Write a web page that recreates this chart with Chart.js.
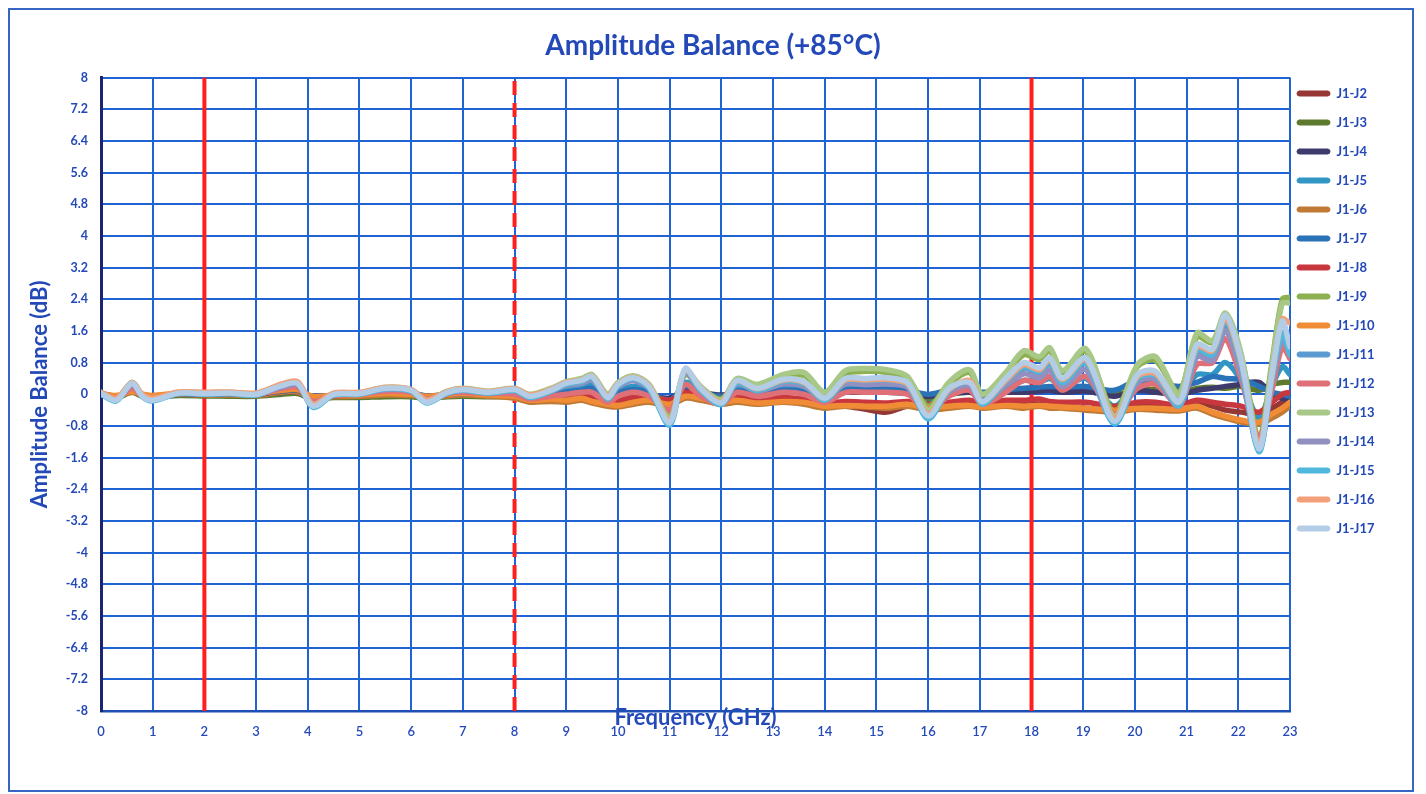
<!DOCTYPE html>
<html><head><meta charset="utf-8">
<script src="https://cdn.jsdelivr.net/npm/chart.js@4.4.1/dist/chart.umd.min.js"></script>
<style>
html,body{margin:0;padding:0;background:#fff;}
#wrap{position:relative;width:1426px;height:794px;overflow:hidden;}
canvas{position:absolute;left:0;top:0;}
#frame{position:absolute;left:8px;top:8px;width:1402px;height:780px;border:2px solid #3566C4;pointer-events:none;}
</style></head><body>
<div id="wrap"><canvas id="c" width="1426" height="794"></canvas><div id="frame"></div></div>
<script>
const chartTitle = 'Amplitude Balance (+85°C)';
const xTitle = 'Frequency (GHz)';
const yTitle = 'Amplitude Balance (dB)';

const freqGHz = [0,0.3,0.6,0.8,1.0, 1.5,2,2.5,3,3.5, 3.8,4.1,4.5,5,5.5, 6,6.3,6.7,7,7.5, 8,8.3,8.7,9,9.3, 9.5,9.8,10,10.3,10.6, 11.0,11.3,11.6,12.0,12.3, 12.7,13.2,13.6,14.0,14.4, 14.8,15.2,15.6,16.0,16.4, 16.8,17.05,17.5,17.85,18.15, 18.35,18.6,19.05,19.6,20.05, 20.4,20.85,21.2,21.5,21.75, 22.05,22.4,22.65,22.85,23.0];

const seriesNames = ['J1-J2','J1-J3','J1-J4','J1-J5','J1-J6','J1-J7','J1-J8','J1-J9','J1-J10','J1-J11','J1-J12','J1-J13','J1-J14','J1-J15','J1-J16','J1-J17'];

const J2 = [0.00,-0.08,0.10,-0.03,-0.08, 0.00,0.00,0.00,-0.02,0.08, 0.10,-0.12,-0.04,-0.03,0.03, 0.02,-0.08,-0.02,0.02,-0.02, -0.02,-0.12,-0.08,-0.10,-0.05, -0.12,-0.20,-0.22,-0.15,-0.10, -0.20,-0.02,-0.10,-0.20,-0.12, -0.18,-0.15,-0.20,-0.30,-0.30, -0.38,-0.45,-0.30,-0.35,-0.30, -0.25,-0.30,-0.25,-0.28,-0.25, -0.30,-0.30,-0.35,-0.40,-0.30, -0.32,-0.35,-0.25,-0.30,-0.40, -0.45,-0.50,-0.35,-0.20,-0.10];
const J3 = [0.00,-0.08,0.05,-0.05,-0.08, -0.03,-0.04,-0.05,-0.05,0.00, 0.02,-0.12,-0.08,-0.08,-0.06, -0.06,-0.10,-0.06,-0.05,-0.06, -0.05,-0.10,-0.05,-0.02,0.02, 0.00,-0.10,-0.05,0.00,-0.02, -0.12,0.05,0.00,-0.05,0.05, 0.00,0.05,0.05,-0.05,0.05, 0.08,0.10,0.05,-0.10,0.00, 0.05,-0.05,0.05,0.10,0.10, 0.12,0.08,0.10,0.00,0.10, 0.12,0.05,0.15,0.18,0.15, 0.20,0.10,0.25,0.30,0.30];
const J4 = [0.01,-0.06,0.08,-0.02,-0.06, 0.00,-0.01,0.00,-0.02,0.05, 0.06,-0.10,-0.04,-0.03,0.00, 0.00,-0.06,-0.02,0.00,-0.02, 0.00,-0.05,0.00,0.03,0.05, 0.08,-0.05,0.00,0.05,0.00, -0.10,0.10,0.05,-0.02,0.05, 0.02,0.05,0.05,-0.02,0.05, 0.05,0.05,0.02,-0.05,0.02, 0.05,-0.02,0.05,0.05,0.08, 0.10,0.05,0.08,-0.05,0.10, 0.05,0.00,0.10,0.15,0.20, 0.25,0.30,0.00,-0.10,-0.10];
const J5 = [0.02,-0.10,0.18,-0.03,-0.10, 0.02,0.02,0.02,0.00,0.15, 0.18,-0.20,-0.02,0.00,0.08, 0.05,-0.12,0.02,0.06,0.02, 0.05,-0.05,0.05,0.12,0.15, 0.25,-0.05,0.10,0.20,0.10, -0.30,0.30,0.08,-0.12,0.15, 0.08,0.18,0.15,-0.05,0.20, 0.20,0.20,0.15,-0.25,0.08, 0.15,-0.08,0.15,0.35,0.30, 0.40,0.20,0.40,-0.30,0.30, 0.30,0.00,0.50,0.50,0.80, 0.35,-0.60,0.20,0.70,0.50];
const J6 = [0.00,-0.05,0.05,-0.02,-0.05, 0.00,-0.02,-0.02,-0.03,0.05, 0.06,-0.10,-0.06,-0.05,-0.02, -0.03,-0.08,-0.04,-0.02,-0.05, -0.10,-0.20,-0.18,-0.20,-0.15, -0.22,-0.30,-0.32,-0.25,-0.20, -0.28,-0.10,-0.15,-0.25,-0.20, -0.25,-0.20,-0.25,-0.35,-0.30, -0.32,-0.35,-0.30,-0.40,-0.35, -0.30,-0.35,-0.30,-0.35,-0.30, -0.35,-0.35,-0.40,-0.45,-0.38, -0.40,-0.42,-0.35,-0.50,-0.60, -0.70,-0.75,-0.60,-0.45,-0.30];
const J7 = [0.03,-0.05,0.10,0.00,-0.05, 0.02,0.00,0.02,0.00,0.08, 0.10,-0.08,-0.02,0.00,0.03, 0.03,-0.04,0.00,0.02,0.00, 0.02,-0.02,0.02,0.05,0.10, 0.15,-0.02,0.05,0.12,0.05, -0.15,0.20,0.05,-0.05,0.08, 0.05,0.10,0.08,0.00,0.10, 0.12,0.12,0.10,0.00,0.10, 0.12,0.05,0.12,0.15,0.18, 0.20,0.18,0.20,0.10,0.35, 0.30,0.20,0.30,0.45,0.40, 0.38,0.20,0.05,0.00,-0.05];
const J8 = [0.02,-0.06,0.12,-0.02,-0.06, 0.02,0.02,0.03,0.00,0.10, 0.12,-0.10,-0.03,-0.02,0.04, 0.03,-0.06,0.00,0.03,0.00, -0.02,-0.10,-0.06,-0.05,0.00, -0.08,-0.18,-0.15,-0.08,-0.05, -0.15,0.05,-0.05,-0.12,-0.05, -0.12,-0.08,-0.12,-0.22,-0.18, -0.20,-0.22,-0.18,-0.25,-0.20, -0.15,-0.22,-0.15,-0.15,-0.12, -0.18,-0.20,-0.20,-0.30,-0.20, -0.20,-0.28,-0.15,-0.20,-0.25, -0.30,-0.45,-0.20,0.00,0.05];
const J9 = [0.04,-0.10,0.25,-0.03,-0.10, 0.03,0.02,0.03,0.00,0.20, 0.25,-0.20,0.00,0.02,0.15, 0.10,-0.12,0.05,0.12,0.05, 0.10,-0.02,0.10,0.25,0.32, 0.42,-0.02,0.25,0.40,0.20, -0.50,0.50,0.15,-0.12,0.32, 0.20,0.42,0.48,0.05,0.52, 0.58,0.55,0.40,-0.30,0.25, 0.55,0.00,0.50,1.00,0.88, 1.10,0.55,1.08,-0.45,0.70, 0.85,0.05,1.45,1.30,1.90, 1.00,-1.10,0.80,2.40,2.45];
const J10 = [0.02,-0.03,0.08,0.00,-0.03, 0.03,0.02,0.04,0.02,0.10, 0.12,-0.05,-0.02,-0.02,0.02, 0.00,-0.05,0.00,0.02,-0.02, -0.05,-0.15,-0.12,-0.15,-0.10, -0.18,-0.25,-0.28,-0.20,-0.15, -0.25,-0.05,-0.10,-0.20,-0.15, -0.22,-0.18,-0.20,-0.30,-0.28, -0.30,-0.30,-0.25,-0.35,-0.30, -0.28,-0.32,-0.28,-0.30,-0.28, -0.30,-0.32,-0.35,-0.40,-0.35, -0.35,-0.38,-0.30,-0.45,-0.55, -0.65,-0.70,-0.50,-0.35,-0.20];
const J11 = [0.02,-0.14,0.26,-0.05,-0.14, 0.03,0.02,0.03,0.00,0.20, 0.26,-0.28,0.00,0.02,0.13, 0.09,-0.18,0.05,0.11,0.04, 0.10,-0.04,0.09,0.25,0.30, 0.40,-0.06,0.22,0.38,0.18, -0.65,0.58,0.12,-0.18,0.30, 0.12,0.32,0.28,-0.08,0.34, 0.34,0.36,0.26,-0.48,0.12, 0.32,-0.15,0.32,0.66,0.55, 0.76,0.32,0.78,-0.58,0.40, 0.46,-0.15,1.05,0.95,1.70, 0.70,-1.25,0.40,1.50,1.10];
const J12 = [0.03,-0.10,0.15,-0.03,-0.10, 0.02,0.02,0.03,0.00,0.15, 0.18,-0.18,-0.02,0.00,0.08, 0.05,-0.12,0.02,0.05,0.02, 0.00,-0.12,-0.05,0.00,0.05, 0.05,-0.20,-0.05,0.05,-0.05, -0.40,0.25,-0.05,-0.25,0.05, -0.05,0.05,0.00,-0.20,0.05, 0.05,0.05,0.00,-0.40,-0.05, 0.10,-0.25,0.05,0.35,0.30, 0.45,0.10,0.45,-0.50,0.15, 0.25,-0.25,0.75,0.80,1.40, 0.40,-1.10,0.10,1.20,0.90];
const J13 = [0.05,-0.12,0.30,-0.02,-0.12, 0.05,0.04,0.05,0.02,0.25, 0.30,-0.25,0.02,0.04,0.18, 0.12,-0.15,0.08,0.15,0.08, 0.15,0.00,0.15,0.32,0.40, 0.50,0.00,0.30,0.47,0.25, -0.60,0.60,0.20,-0.15,0.40, 0.25,0.50,0.55,0.05,0.60, 0.65,0.62,0.45,-0.40,0.30, 0.62,0.00,0.55,1.10,0.95, 1.18,0.60,1.15,-0.55,0.75, 0.95,0.00,1.55,1.35,2.05, 1.05,-1.30,0.70,2.30,2.30];
const J14 = [0.00,-0.14,0.24,-0.05,-0.14, 0.02,0.01,0.02,-0.01,0.18, 0.24,-0.28,-0.01,0.01,0.12, 0.08,-0.18,0.03,0.10,0.03, 0.08,-0.06,0.07,0.22,0.28, 0.36,-0.10,0.18,0.34,0.14, -0.70,0.55,0.10,-0.22,0.26, 0.08,0.26,0.20,-0.12,0.26, 0.24,0.26,0.18,-0.50,0.06, 0.22,-0.20,0.22,0.52,0.42, 0.60,0.20,0.62,-0.72,0.30, 0.38,-0.30,0.95,0.85,1.60, 0.55,-1.40,0.30,1.40,1.00];
const J15 = [0.00,-0.17,0.30,-0.06,-0.17, 0.02,0.00,0.02,-0.02,0.25, 0.30,-0.33,-0.02,0.00,0.14, 0.08,-0.22,0.03,0.10,0.03, 0.10,-0.08,0.08,0.26,0.33, 0.43,-0.12,0.22,0.40,0.16, -0.78,0.60,0.10,-0.26,0.30, 0.10,0.33,0.27,-0.15,0.35, 0.35,0.37,0.25,-0.62,0.10, 0.32,-0.25,0.33,0.70,0.58, 0.82,0.30,0.82,-0.75,0.40, 0.48,-0.28,1.12,1.00,1.88, 0.75,-1.45,0.35,1.55,1.00];
const J16 = [0.05,-0.10,0.30,0.00,-0.10, 0.06,0.05,0.06,0.03,0.26, 0.32,-0.25,0.03,0.05,0.17, 0.12,-0.15,0.07,0.14,0.07, 0.14,-0.02,0.12,0.30,0.36, 0.46,-0.05,0.26,0.43,0.22, -0.68,0.62,0.16,-0.20,0.34, 0.14,0.36,0.30,-0.10,0.36, 0.36,0.38,0.26,-0.50,0.12, 0.35,-0.18,0.35,0.75,0.62, 0.88,0.38,0.88,-0.62,0.45, 0.52,-0.20,1.20,1.10,1.92, 0.85,-1.30,0.45,1.90,1.80];
const J17 = [0.02,-0.15,0.28,-0.05,-0.15, 0.03,0.02,0.03,0.00,0.22, 0.28,-0.30,0.00,0.02,0.15, 0.10,-0.20,0.05,0.12,0.05, 0.12,-0.05,0.10,0.28,0.35, 0.45,-0.08,0.25,0.42,0.20, -0.72,0.65,0.15,-0.22,0.35, 0.15,0.38,0.32,-0.10,0.40, 0.40,0.42,0.30,-0.55,0.15, 0.30,-0.19,0.40,0.80,0.67, 0.92,0.41,0.92,-0.68,0.50, 0.58,-0.19,1.26,1.14,2.00, 0.90,-1.38,0.50,1.85,1.20];

const seriesValues = [J2,J3,J4,J5,J6,J7,J8,J9,J10,J11,J12,J13,J14,J15,J16,J17];

const markerFreqs = [2, 8, 18];

const xTickValues = [0,1,2,3,4,5,6,7,8,9,10,11,12,13,14,15,16,17,18,19,20,21,22,23];
const yTickValues = [-8,-7.2,-6.4,-5.6,-4.8,-4,-3.2,-2.4,-1.6,-0.8,0,0.8,1.6,2.4,3.2,4,4.8,5.6,6.4,7.2,8];
const yTickLabels = ['-8','-7.2','-6.4','-5.6','-4.8','-4','-3.2','-2.4','-1.6','-0.8','0','0.8','1.6','2.4','3.2','4','4.8','5.6','6.4','7.2','8'];

const seriesColors = ['#953735','#5E7A2E','#3E3A6C','#3196C4','#C07A35','#2A73B8','#C8363E','#8DB050','#F08C35','#5B9BD0','#E07078','#A8C888','#9190C0','#4FB8DC','#F3A07A','#B4CDE6'];

const BLUE_TEXT = '#2348B8';
const GRID = '#2063D4';

const datasets = seriesNames.map((name, i) => ({
  label: name,
  data: freqGHz.map((f, k) => ({x: f, y: seriesValues[i][k]})),
  borderColor: seriesColors[i],
  backgroundColor: seriesColors[i],
  borderWidth: 5.5,
  pointRadius: 0,
  tension: 0.3,
  fill: false,
  borderCapStyle: 'round',
  borderJoinStyle: 'round',
  order: 20 - i
}));
markerFreqs.forEach((f, j) => {
  datasets.push({
    label: 'marker',
    data: [{x: f, y: yTickValues[0]}, {x: f, y: yTickValues[yTickValues.length - 1]}],
    borderColor: '#FF1E1E',
    backgroundColor: '#FF1E1E',
    borderWidth: 4,
    pointRadius: 0,
    borderDash: j === 1 ? [14, 8] : [],
    fill: false,
    order: 100
  });
});

const legendPlace = {
  id: 'legendPlace',
  afterInit(chart) {
    const lg = chart.legend;
    if (lg) {
      const fit = lg.fit;
      lg.fit = function() { fit.call(this); this.width = 136; };
    }
  },
  afterLayout(chart) {
    const lg = chart.legend;
    if (!lg) return;
    lg.left = chart.chartArea.right - 9;
    lg.right = lg.left + lg.width;
    lg.top = 71;
    lg.bottom = lg.top + lg.height;
  }
};

new Chart(document.getElementById('c'), {
  type: 'line',
  data: { datasets },
  plugins: [legendPlace],
  options: {
    responsive: false,
    animation: false,
    devicePixelRatio: 1,
    layout: { padding: 0 },
    plugins: {
      tooltip: { enabled: false },
      title: {
        display: true,
        text: chartTitle,
        color: BLUE_TEXT,
        font: { family: 'Lato', size: 28, weight: 'bold' },
        padding: { top: 29, bottom: 15 }
      },
      legend: {
        position: 'right',
        align: 'start',
        labels: {
          filter: (item) => item.datasetIndex < seriesNames.length,
          sort: (a, b) => a.datasetIndex - b.datasetIndex,
          generateLabels(chart) {
            const items = Chart.defaults.plugins.legend.labels.generateLabels(chart);
            items.forEach(it => { it.lineWidth = 1; it.lineDash = []; it.strokeStyle = it.fillStyle; });
            return items;
          },
          boxWidth: 33,
          boxHeight: 5,
          padding: 16,
          useBorderRadius: true,
          borderRadius: 2.5,
          color: BLUE_TEXT,
          font: { family: 'Lato', size: 13, weight: 'bold' }
        }
      }
    },
    scales: {
      x: {
        type: 'linear',
        min: 0,
        max: 23,
        afterBuildTicks: (s) => { s.ticks = xTickValues.map(v => ({value: v})); },
        afterFit: (s) => { s.height = 83; },
        ticks: {
          autoSkip: false,
          maxRotation: 0,
          padding: 13,
          color: BLUE_TEXT,
          font: { family: 'Lato', size: 13, weight: '600' },
          callback: (v) => String(v)
        },
        grid: { color: GRID, lineWidth: 2, drawTicks: false },
        border: { color: '#1E4FB5', width: 2.5 },
        title: {
          display: true,
          text: xTitle,
          color: BLUE_TEXT,
          font: { family: 'Lato', size: 22, weight: 'bold' },
          padding: { top: 0, bottom: 63 }
        }
      },
      y: {
        type: 'linear',
        min: yTickValues[0],
        max: yTickValues[yTickValues.length - 1],
        afterBuildTicks: (s) => { s.ticks = yTickValues.map(v => ({value: v})); },
        afterFit: (s) => { s.width = 101; },
        ticks: {
          autoSkip: false,
          padding: 13,
          color: BLUE_TEXT,
          font: { family: 'Lato', size: 12.5, weight: 'bold' },
          callback: (v, i) => yTickLabels[i]
        },
        grid: { color: GRID, lineWidth: 2, drawTicks: false },
        border: { color: '#1A2470', width: 3 },
        title: {
          display: true,
          text: yTitle,
          color: BLUE_TEXT,
          font: { family: 'Lato', size: 22, weight: 'bold' },
          padding: { top: 27, bottom: 0 }
        }
      }
    }
  }
});
</script>
</body></html>
